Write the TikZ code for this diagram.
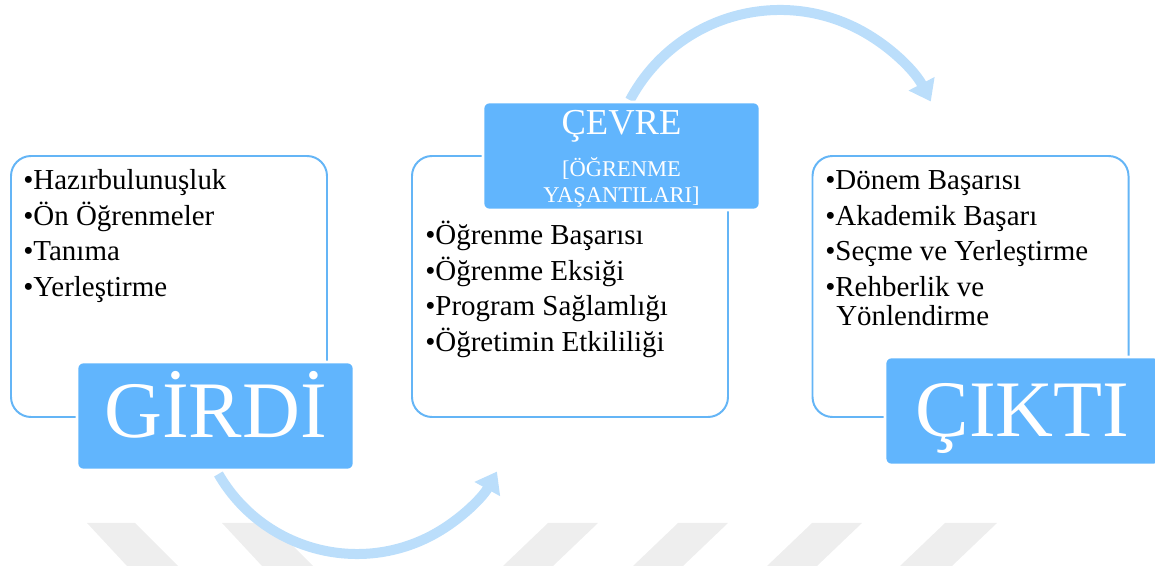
\documentclass[tikz,border=0pt]{standalone}
\usepackage{fontspec}
\setmainfont{Liberation Serif}
\usepackage{xcolor}
\usetikzlibrary{arrows.meta,positioning}
\definecolor{boxblue}{RGB}{97,181,253}
\definecolor{lineblue}{RGB}{100,181,246}
\definecolor{arcblue}{RGB}{187,222,251}
\definecolor{markgray}{RGB}{238,238,238}

\begin{document}
\begin{tikzpicture}[
        whitebox/.style={draw=lineblue, line width=1.4pt, rounded corners=0.5cm, fill=white, minimum width=7.9cm, minimum height=6.525cm},
        bluebox/.style={draw=white, line width=2pt, rounded corners=0.15cm, fill=boxblue, minimum width=6.925cm, minimum height=2.7cm, text=white, font=\fontsize{57}{60}\selectfont, text depth=0pt},
        item/.style={anchor=base west, inner sep=0pt, font=\fontsize{20.6}{24}\selectfont},
        headtext/.style={anchor=base, inner sep=0pt, text=white},
        cyclearrow/.style={draw=arcblue, line width=0.25cm, -{Triangle[length=0.5cm, width=0.7cm]}}
    ]
    \useasboundingbox (0,0) rectangle (28.875,14.15);
    % Filigran
    \fill[markgray] (2.175,1.075) -- (3.375,1.075) -- (4.45,0) -- (3.175,0) -- cycle;
    \fill[markgray] (5.55,1.075) -- (6.75,1.075) -- (7.825,0) -- (6.55,0) -- cycle;
    \fill[markgray] (13.7,1.075) -- (14.95,1.075) -- (13.825,0) -- (12.575,0) -- cycle;
    \fill[markgray] (16.95,1.075) -- (18.2,1.075) -- (17.075,0) -- (15.825,0) -- cycle;
    \fill[markgray] (20.3,1.075) -- (21.55,1.075) -- (20.425,0) -- (19.175,0) -- cycle;
    \fill[markgray] (23.625,1.075) -- (24.925,1.075) -- (23.8,0) -- (22.5,0) -- cycle;
    % Oklar
    \coordinate (altc) at (8.925,4.3);
    \coordinate (ustc) at (19.5,9.65);
    \draw[cyclearrow] ([shift={(210:4)}]altc) arc[start angle=210, end angle=331, radius=4];
    \draw[cyclearrow] ([shift={(152:4.25)}]ustc) arc[start angle=152, end angle=27.5, radius=4.25];
    % Girdi
    \node[whitebox] (gk) at (4.225,6.9875) {};
    \node[item] (g1) at (0.575,9.4) {•Hazırbulunuşluk};
    \node[item] (g2) at (0.575,8.5125) {•Ön Öğrenmeler};
    \node[item] (g3) at (0.575,7.625) {•Tanıma};
    \node[item] (g4) at (0.575,6.7375) {•Yerleştirme};
    \node[bluebox, text height=1.1cm] (girdi) at (5.3875,3.75) {GİRDİ};
    % Çevre
    \node[whitebox] (ck) at (14.25,6.9875) {};
    \node[item] (c1) at (10.625,8.025) {•Öğrenme Başarısı};
    \node[item] (c2) at (10.625,7.1375) {•Öğrenme Eksiği};
    \node[item] (c3) at (10.625,6.25) {•Program Sağlamlığı};
    \node[item] (c4) at (10.625,5.3625) {•Öğretimin Etkililiği};
    \node[bluebox] (cevre) at (15.5375,10.25) {};
    \node[headtext, font=\fontsize{26}{28}\selectfont] (cevre1) at (15.5375,10.775) {ÇEVRE};
    \node[headtext, font=\fontsize{16}{18}\selectfont] (cevre2) at (15.5375,9.725) {[ÖĞRENME};
    \node[headtext, font=\fontsize{16}{18}\selectfont] (cevre3) at (15.5375,9.075) {YAŞANTILARI]};
    % Çıktı
    \node[whitebox] (tk) at (24.2625,6.9875) {};
    \node[item] (t1) at (20.625,9.4) {•Dönem Başarısı};
    \node[item] (t2) at (20.625,8.5125) {•Akademik Başarı};
    \node[item] (t3) at (20.625,7.625) {•Seçme ve Yerleştirme};
    \node[item] (t4) at (20.625,6.7375) {•Rehberlik ve};
    \node[item] (t5) at (20.9,6.0) {Yönlendirme};
    \node[bluebox, minimum width=6.875cm, text height=1.3cm] (cikti) at (25.5625,3.875) {ÇIKTI};
    \end{tikzpicture}
\end{document}
